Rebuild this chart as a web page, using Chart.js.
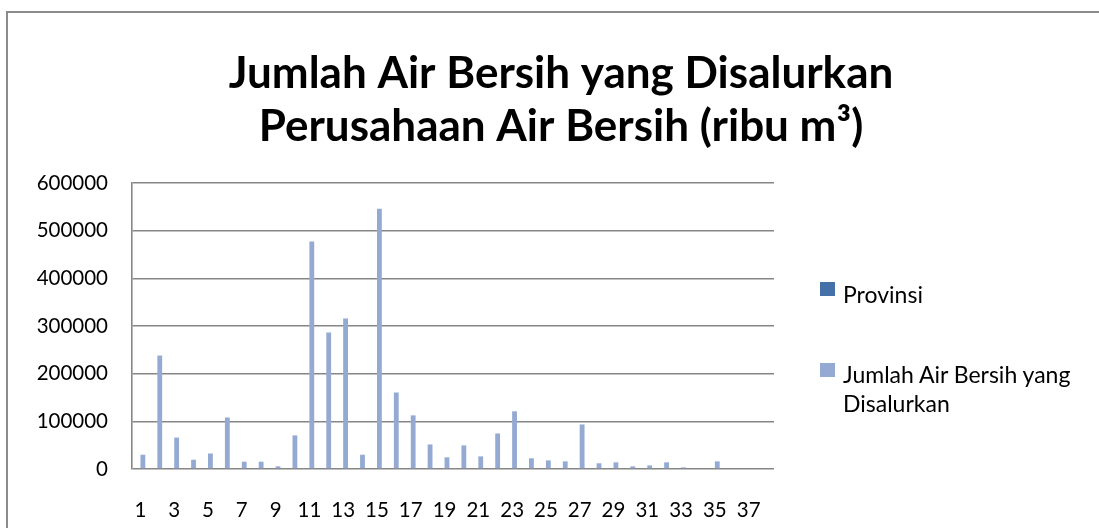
<!DOCTYPE html>
<html>
<head>
<meta charset="utf-8">
<script src="https://cdn.jsdelivr.net/npm/chart.js@4/dist/chart.umd.min.js"></script>
<style>
  html, body { margin: 0; padding: 0; background: #fff; overflow: hidden; }
  body { width: 1099px; height: 528px; position: relative; font-family: Lato, "Open Sans", sans-serif; }
  #frame { position: absolute; left: 6px; top: 11px; width: 1200px; height: 600px;
           border-left: 2px solid #8c8c8c; border-top: 2px solid #8c8c8c; }
  #cv { position: absolute; left: 0; top: 0; }
  .sw { position: absolute; width: 15px; height: 14px; }
  .lg { position: absolute; font-size: 23px; line-height: 28.7px; color: #000; white-space: nowrap; }
</style>
</head>
<body>
<div id="frame"></div>
<canvas id="cv" width="1122" height="528"></canvas>
<div class="sw" style="left:820px;top:282px;background:#4670a8"></div>
<div class="lg" style="left:843px;top:280px">Provinsi</div>
<div class="sw" style="left:820px;top:363px;background:#94aad2"></div>
<div class="lg" style="left:843px;top:360px">Jumlah Air Bersih yang<br>Disalurkan</div>
<script>
var titleLines = ["Jumlah Air Bersih yang Disalurkan", "Perusahaan Air Bersih (ribu m³)"]
var categories = ["1","2","3","4","5","6","7","8","9","10","11","12","13","14","15","16","17","18","19","20",
                  "21","22","23","24","25","26","27","28","29","30","31","32","33","34","35","36","37","38"]
// Provinsi column held names, so it plots as zero
var provinsi = [0,0,0,0,0,0,0,0,0,0,0,0,0,0,0,0,0,0,0,0,0,0,0,0,0,0,0,0,0,0,0,0,0,0,0,0,0,0]
var jumlahAir = [30000, 238000, 66000, 19500, 32500, 108000, 15300, 15300, 5600, 70500,
                 477500, 286500, 316000, 30000, 546000, 160500, 112500, 51500, 24500, 49500,
                 26500, 74500, 121000, 22500, 18000, 16000, 93500, 12000, 14000, 5500,
                 7500, 14000, 3500, 0, 16000, 0, 0, 0]
var yTicks = [0, 100000, 200000, 300000, 400000, 500000, 600000]

var tickFont = { family: 'Lato', size: 20.5 }

new Chart(document.getElementById('cv'), {
  type: 'bar',
  data: {
    labels: categories,
    datasets: [
      { label: 'Provinsi', data: provinsi, backgroundColor: '#4670a8',
        categoryPercentage: 0.571, barPercentage: 1 },
      { label: 'Jumlah Air Bersih yang Disalurkan', data: jumlahAir, backgroundColor: '#94aad2',
        categoryPercentage: 0.571, barPercentage: 1 }
    ]
  },
  options: {
    responsive: false,
    animation: false,
    devicePixelRatio: 1,
    layout: { padding: 0 },
    plugins: {
      legend: { display: false },
      tooltip: { enabled: false },
      title: {
        display: true,
        text: titleLines,
        color: '#000',
        font: { family: 'Lato', size: 44, weight: 'bold', lineHeight: 1.216 },
        padding: { top: 47, bottom: 29 }
      }
    },
    scales: {
      x: {
        grid: { display: false, drawTicks: false },
        border: { display: false },
        ticks: {
          color: '#000', font: tickFont, padding: 29, autoSkip: false, maxRotation: 0,
          callback: function (value, index) {
            return index % 2 === 0 ? categories[index] : ''
          }
        },
        afterFit: function (scale) { scale.height = 59 }
      },
      y: {
        min: yTicks[0],
        max: yTicks[yTicks.length - 1],
        grid: { color: '#868686', lineWidth: 1.6, drawTicks: false },
        border: { display: true, color: '#868686', width: 1.6 },
        ticks: {
          color: '#000', font: tickFont, padding: 24, stepSize: 100000,
          callback: function (value) { return String(value) }
        },
        afterFit: function (scale) { scale.width = 132 }
      },
      pad: {
        position: 'right',
        display: true,
        grid: { display: false, drawTicks: false },
        border: { display: false },
        ticks: { display: false },
        afterFit: function (scale) { scale.width = 348 }
      }
    }
  }
});
</script>
</body>
</html>
